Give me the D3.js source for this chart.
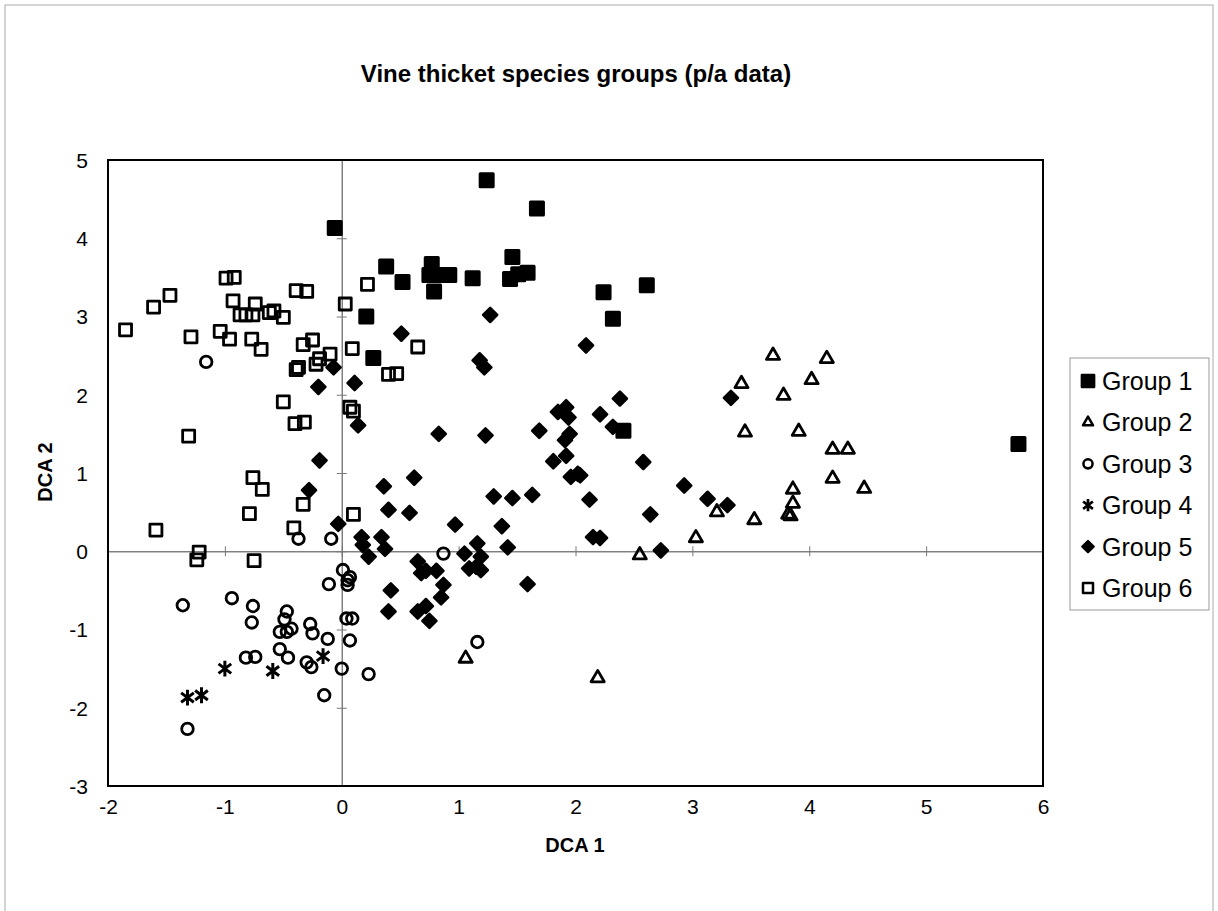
<!DOCTYPE html>
<html>
<head>
<meta charset="utf-8">
<script src="https://cdn.jsdelivr.net/npm/d3@7"></script>
<style>
  body { margin: 0; background: #fff; }
  svg { display: block; font-family: Arial, "Liberation Sans", sans-serif; }
</style>
</head>
<body>
<svg id="chart" width="1218" height="911"></svg>
<script>
// values
var g1x = [-0.06, 1.24, 1.67, 0.38, 0.52, 0.77, 0.75, 0.87, 0.92, 0.79, 1.12, 1.46, 1.44, 1.51, 1.59, 0.21, 0.27, 2.24, 2.61, 2.32, 2.41, 5.79]
var g1y = [4.13, 4.74, 4.38, 3.64, 3.44, 3.67, 3.53, 3.53, 3.53, 3.32, 3.49, 3.76, 3.48, 3.54, 3.56, 3.00, 2.47, 3.31, 3.40, 2.97, 1.54, 1.37]

var g2x = [3.69, 4.15, 3.42, 4.02, 3.78, 3.45, 3.91, 4.20, 4.33, 4.20, 4.47, 3.86, 3.86, 3.82, 3.84, 3.21, 3.53, 3.03, 2.55, 1.06, 2.19]
var g2y = [2.50, 2.46, 2.14, 2.19, 1.99, 1.52, 1.53, 1.30, 1.30, 0.93, 0.80, 0.79, 0.61, 0.47, 0.45, 0.50, 0.40, 0.17, -0.05, -1.37, -1.62]

var g3x = [-1.16, -0.37, -0.09, 0.01, 0.07, 0.87, -1.36, -0.94, -0.76, -0.77, -0.47, -0.49, -0.43, -0.53, -0.47, -0.27, -0.25, -0.12, -0.11, 0.05, 0.05, 0.04, 0.09, 0.07, 0.00, 0.23, 1.16, -0.15, -0.82, -0.74, -0.53, -0.46, -0.30, -0.26, -1.32]
var g3y = [2.42, 0.16, 0.16, -0.24, -0.33, -0.03, -0.69, -0.60, -0.70, -0.91, -0.77, -0.87, -0.99, -1.03, -1.03, -0.93, -1.05, -1.12, -0.42, -0.37, -0.43, -0.86, -0.86, -1.14, -1.50, -1.57, -1.16, -1.84, -1.36, -1.35, -1.25, -1.36, -1.42, -1.48, -2.27]

var g4x = [-1.32, -1.20, -1.00, -0.59, -0.16]
var g4y = [-1.87, -1.84, -1.50, -1.53, -1.34]

var g5x = [1.27, 0.51, 1.18, 1.22, -0.07, -0.20, -0.19, -0.28, -0.03, 0.11, 0.14, 0.83, 1.23, 1.69, 1.85, 1.92, 1.94, 1.95, 1.91, 1.92, 1.81, 1.96, 2.02, 0.62, 0.36, 0.40, 0.58, 1.30, 1.46, 1.63, 0.97, 1.37, 1.16, 1.42, 0.17, 0.23, 0.34, 0.37, 0.18, 1.05, 1.19, 1.09, 1.15, 1.19, 0.65, 0.72, 0.81, 0.68, 1.59, 0.42, 0.40, 0.65, 0.72, 0.75, 0.87, 0.85, 2.09, 2.38, 2.21, 2.32, 2.58, 2.04, 2.12, 2.15, 2.21, 2.64, 2.73, 2.93, 3.13, 3.30, 3.33]
var g5y = [3.02, 2.78, 2.44, 2.35, 2.35, 2.10, 1.16, 0.78, 0.35, 2.15, 1.61, 1.50, 1.48, 1.54, 1.78, 1.84, 1.71, 1.50, 1.42, 1.22, 1.15, 0.95, 0.99, 0.94, 0.83, 0.53, 0.49, 0.70, 0.68, 0.72, 0.34, 0.32, 0.10, 0.05, 0.18, -0.07, 0.18, 0.03, 0.08, -0.03, -0.07, -0.22, -0.20, -0.24, -0.13, -0.25, -0.25, -0.28, -0.42, -0.50, -0.77, -0.77, -0.70, -0.89, -0.43, -0.59, 2.63, 1.95, 1.75, 1.59, 1.14, 0.97, 0.66, 0.18, 0.17, 0.47, 0.01, 0.84, 0.67, 0.59, 1.96]

var g6x = [-1.85, -1.61, -1.47, -0.99, -0.92, -0.39, -0.30, -0.93, -0.74, -0.87, -0.82, -0.76, -0.62, -0.58, -0.50, -1.29, -1.04, -0.96, -0.77, -0.69, -0.33, -0.25, -0.37, -0.19, -0.10, 0.03, 0.22, 0.09, 0.65, -0.39, -0.22, -0.50, -0.40, -0.32, -1.31, -0.76, -0.68, -0.79, -0.33, -0.41, -1.59, -1.22, -1.24, -0.75, 0.07, 0.10, 0.40, 0.47, 0.10]
var g6y = [2.83, 3.12, 3.27, 3.49, 3.50, 3.33, 3.32, 3.20, 3.16, 3.02, 3.02, 3.02, 3.05, 3.07, 2.99, 2.74, 2.81, 2.71, 2.71, 2.58, 2.64, 2.70, 2.35, 2.46, 2.52, 3.16, 3.41, 2.59, 2.61, 2.32, 2.39, 1.91, 1.63, 1.65, 1.47, 0.94, 0.79, 0.48, 0.60, 0.30, 0.27, -0.01, -0.11, -0.12, 1.84, 1.79, 2.26, 2.27, 0.47]

var groupNames = ['Group 1', 'Group 2', 'Group 3', 'Group 4', 'Group 5', 'Group 6']
var xTicks = [-2, -1, 0, 1, 2, 3, 4, 5, 6]
var yTicks = [-3, -2, -1, 0, 1, 2, 3, 4, 5]

var svg = d3.select('#chart')
var plotL = 108, plotR = 1043, plotT = 160, plotB = 786

var x = d3.scaleLinear().domain([-2, 6]).range([plotL, plotR])
var y = d3.scaleLinear().domain([-3, 5]).range([plotB, plotT])

// star marker (vertical bar + x)
var starType = {
    draw: function (ctx, size) {
        var r = Math.sqrt(size) / 2
        ctx.moveTo(0, -r); ctx.lineTo(0, r)
        var a = r * 0.8, b = r * 0.6
        ctx.moveTo(-a, -b); ctx.lineTo(a, b)
        ctx.moveTo(-a, b); ctx.lineTo(a, -b)
    }
}

var styles = [
    { type: d3.symbolSquare, size: 13 * 13, fill: '#000', sw: 3, rot: 0, lsize: 12 * 12 },
    { type: d3.symbolTriangle, size: 75, fill: 'none', sw: 2.8, rot: 0, lsize: 44 },
    { type: d3.symbolCircle, size: 105, fill: 'none', sw: 2.8, rot: 0, lsize: 66 },
    { type: starType, size: 250, fill: 'none', sw: 3, rot: 0, lsize: 150 },
    { type: d3.symbolSquare, size: 10 * 10, fill: '#000', sw: 2.5, rot: 45, lsize: 8 * 8 },
    { type: d3.symbolSquare, size: 12 * 12, fill: 'none', sw: 2.8, rot: 0, lsize: 10 * 10 }
]

var groups = [[g1x, g1y], [g2x, g2y], [g3x, g3y], [g4x, g4y], [g5x, g5y], [g6x, g6y]]

// outer chart border
svg.append('rect')
    .attr('x', 5).attr('y', 5).attr('width', 1208).attr('height', 930)
    .attr('fill', 'none').attr('stroke', '#aaa').attr('stroke-width', 1)

// title
svg.append('text')
    .attr('x', 576).attr('y', 82)
    .attr('text-anchor', 'middle')
    .attr('font-size', '24px').attr('font-weight', 'bold')
    .text('Vine thicket species groups (p/a data)')

// zero lines with cross ticks
var xZero = svg.append('g').attr('class', 'zero').attr('transform', `translate(0,${y(0)})`)
xZero.append('g').call(d3.axisBottom(x).tickValues(xTicks).tickSize(5).tickFormat(''))
xZero.append('g').call(d3.axisTop(x).tickValues(xTicks).tickSize(5).tickFormat(''))
var yZero = svg.append('g').attr('class', 'zero').attr('transform', `translate(${x(0)},0)`)
yZero.append('g').call(d3.axisLeft(y).tickValues(yTicks).tickSize(5).tickFormat(''))
yZero.append('g').call(d3.axisRight(y).tickValues(yTicks).tickSize(5).tickFormat(''))
svg.selectAll('.zero .domain').attr('stroke', '#777')
svg.selectAll('.zero .tick line').attr('stroke', '#777')

// plot frame
svg.append('rect')
    .attr('x', plotL).attr('y', plotT).attr('width', plotR - plotL).attr('height', plotB - plotT)
    .attr('fill', 'none').attr('stroke', '#000').attr('stroke-width', 2)

// tick labels at the frame edges
var gxLab = svg.append('g').attr('class', 'axis')
    .attr('transform', `translate(0,${plotB})`)
    .call(d3.axisBottom(x).tickValues(xTicks).tickSize(0))
var gyLab = svg.append('g').attr('class', 'axis')
    .attr('transform', `translate(${plotL - 20},0)`)
    .call(d3.axisLeft(y).tickValues(yTicks).tickSize(0))
svg.selectAll('.axis .domain').remove()
svg.selectAll('.axis text')
    .attr('font-size', '21px').attr('fill', '#000')
    .attr('font-family', 'Arial, "Liberation Sans", sans-serif')
    .text(function (d) { return d < 0 ? '-' + Math.abs(d) : d })
gxLab.selectAll('text').attr('y', 13).attr('dy', '0.71em')
gyLab.selectAll('text').attr('x', 0).attr('dy', '0.35em')

// axis titles
svg.append('text')
    .attr('x', 575).attr('y', 852)
    .attr('text-anchor', 'middle')
    .attr('font-size', '20px').attr('font-weight', 'bold')
    .text('DCA 1')
svg.append('text')
    .attr('transform', 'translate(52,472) rotate(-90)')
    .attr('text-anchor', 'middle')
    .attr('font-size', '20px').attr('font-weight', 'bold')
    .text('DCA 2')

// points
groups.forEach(function (g, gi) {
    var st = styles[gi]
    var sym = d3.symbol().type(st.type).size(st.size)
    var pts = g[0].map(function (v, i) { return [v, g[1][i]] })
    svg.append('g').selectAll('path')
        .data(pts)
        .enter().append('path')
        .attr('d', sym)
        .attr('transform', function (d) {
            return `translate(${x(d[0])},${y(d[1])}) rotate(${st.rot})`
        })
        .attr('fill', st.fill)
        .attr('stroke', '#000')
        .attr('stroke-width', st.sw)
        .attr('stroke-linejoin', 'round')
})

// legend
var legend = svg.append('g')
legend.append('rect')
    .attr('x', 1070).attr('y', 358).attr('width', 139).attr('height', 252)
    .attr('fill', '#fff').attr('stroke', '#999').attr('stroke-width', 1)
groupNames.forEach(function (name, i) {
    var st = styles[i]
    var ly = 381 + i * 41.4
    legend.append('path')
        .attr('d', d3.symbol().type(st.type).size(st.lsize))
        .attr('transform', `translate(1088,${ly}) rotate(${st.rot})`)
        .attr('fill', st.fill)
        .attr('stroke', '#000')
        .attr('stroke-width', st.sw * 0.9)
        .attr('stroke-linejoin', 'round')
    legend.append('text')
        .attr('x', 1102).attr('y', ly)
        .attr('dy', '0.36em')
        .attr('font-size', '25px')
        .text(name)
})
</script>
</body>
</html>
